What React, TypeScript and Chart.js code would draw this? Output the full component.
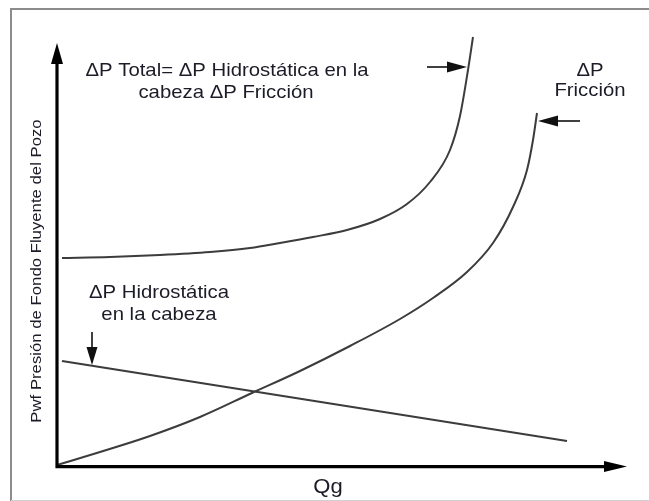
import React, { useEffect, useRef } from "react";
import { Chart, registerables } from "chart.js";

Chart.register(...registerables);

// Conceptual curves (Qg on x, bottom-hole flowing pressure on y, arbitrary units)
const frictionQg = [0, 43, 93, 143, 195, 243, 293, 343, 376, 410, 436, 456, 470, 476, 480];
const frictionP = [0, 13, 29, 48, 72, 94, 119, 146, 167, 193, 222, 258, 295, 325, 352];

const totalQg = [5, 53, 103, 153, 193, 223, 256, 290, 323, 350, 373, 393, 403, 411, 416];
const totalP = [207, 208, 210, 213, 217, 222, 228, 235, 246, 261, 283, 315, 349, 395, 428];

const hydroQg = [5, 510];
const hydroP = [104, 24];

const textTotal = ["ΔP Total= ΔP Hidrostática en la", "cabeza ΔP Fricción"];
const textFriction = ["ΔP", "Fricción"];
const textHydro = ["ΔP Hidrostática", "en la cabeza"];
const xTitle = "Qg";
const yTitle = "Pwf Presión de Fondo Fluyente del Pozo";

const FONT = "'Liberation Sans', Arial, sans-serif";
const TEXT_COLOR = "#1c1c28";
const CURVE_COLOR = "#3c3c3c";

function toPoints(xs: number[], ys: number[]) {
  return xs.map((x, i) => ({ x, y: ys[i] }));
}

function drawText(
  ctx: CanvasRenderingContext2D,
  text: string,
  x: number,
  y: number,
  size: number,
  stretch: number,
  rotate = false
) {
  ctx.save();
  ctx.translate(x, y);
  if (rotate) ctx.rotate(-Math.PI / 2);
  ctx.scale(stretch, 1);
  ctx.font = `${size}px ${FONT}`;
  ctx.fillStyle = TEXT_COLOR;
  ctx.textAlign = "center";
  ctx.textBaseline = "alphabetic";
  ctx.fillText(text, 0, 0);
  ctx.restore();
}

function arrowHead(
  ctx: CanvasRenderingContext2D,
  tipX: number,
  tipY: number,
  dirX: number,
  dirY: number,
  len: number,
  half: number
) {
  const bx = tipX - dirX * len;
  const by = tipY - dirY * len;
  const nx = -dirY;
  const ny = dirX;
  ctx.beginPath();
  ctx.moveTo(tipX, tipY);
  ctx.lineTo(bx + nx * half, by + ny * half);
  ctx.lineTo(bx - nx * half, by - ny * half);
  ctx.closePath();
  ctx.fill();
}

function arrow(
  ctx: CanvasRenderingContext2D,
  x1: number,
  y1: number,
  x2: number,
  y2: number,
  width: number,
  len: number,
  half: number,
  color: string
) {
  const d = Math.hypot(x2 - x1, y2 - y1);
  const dx = (x2 - x1) / d;
  const dy = (y2 - y1) / d;
  ctx.save();
  ctx.strokeStyle = color;
  ctx.fillStyle = color;
  ctx.lineWidth = width;
  ctx.beginPath();
  ctx.moveTo(x1, y1);
  ctx.lineTo(x2 - dx * (len - 2), y2 - dy * (len - 2));
  ctx.stroke();
  arrowHead(ctx, x2, y2, dx, dy, len, half);
  ctx.restore();
}

const decorations = {
  id: "decorations",
  beforeDraw(chart: any) {
    const ctx: CanvasRenderingContext2D = chart.ctx;
    ctx.save();
    ctx.fillStyle = "#ffffff";
    ctx.fillRect(0, 0, chart.width, chart.height);
    ctx.strokeStyle = "#8c8c8c";
    ctx.lineWidth = 2;
    ctx.beginPath();
    ctx.moveTo(11, chart.height + 5);
    ctx.lineTo(11, 9);
    ctx.lineTo(chart.width + 5, 9);
    ctx.stroke();
    ctx.strokeStyle = "#d0d0d0";
    ctx.lineWidth = 1;
    ctx.beginPath();
    ctx.moveTo(11, chart.height - 0.5);
    ctx.lineTo(chart.width, chart.height - 0.5);
    ctx.stroke();
    ctx.restore();
  },
  afterDraw(chart: any) {
    const ctx: CanvasRenderingContext2D = chart.ctx;
    const xs = chart.scales.x;
    const ys = chart.scales.y;
    const X = (v: number) => xs.getPixelForValue(v);
    const Y = (v: number) => ys.getPixelForValue(v);

    // axes with arrow heads
    ctx.save();
    ctx.strokeStyle = "#000";
    ctx.fillStyle = "#000";
    ctx.lineWidth = 3.2;
    ctx.lineCap = "butt";
    ctx.beginPath();
    ctx.moveTo(X(0), Y(422) + 18);
    ctx.lineTo(X(0), Y(0) + 1.6);
    ctx.lineTo(X(570) - 20, Y(0) + 1.6);
    ctx.stroke();
    arrowHead(ctx, X(0), Y(422), 0, -1, 21, 6);
    arrowHead(ctx, X(570), Y(0) + 1.6, 1, 0, 23, 5.5);
    ctx.restore();

    // annotation arrows
    arrow(ctx, X(370), Y(398), X(410), Y(398), 1.6, 20, 5.5, "#111");
    arrow(ctx, X(523), Y(344), X(481), Y(344), 1.6, 20, 5.5, "#111");
    arrow(ctx, X(35), Y(133), X(35), Y(100), 1.6, 18, 5.5, "#111");

    // annotation texts
    drawText(ctx, textTotal[0], X(170), Y(389), 19, 1.07);
    drawText(ctx, textTotal[1], X(169), Y(367), 19, 1.07);
    drawText(ctx, textFriction[0], X(533), Y(389), 19, 1.07);
    drawText(ctx, textFriction[1], X(533), Y(369), 19, 1.07);
    drawText(ctx, textHydro[0], X(102), Y(167), 19, 1.07);
    drawText(ctx, textHydro[1], X(102), Y(145), 19, 1.07);

    // axis titles
    drawText(ctx, xTitle, X(271), Y(-28), 21, 1.05);
    drawText(ctx, yTitle, X(-16), Y(194), 15.5, 1.08, true);
  },
};

export default function App() {
  const canvasRef = useRef<HTMLCanvasElement | null>(null);

  useEffect(() => {
    if (!canvasRef.current) return;
    const lineStyle = {
      borderColor: CURVE_COLOR,
      borderWidth: 2,
      pointRadius: 0,
      pointHoverRadius: 0,
      fill: false,
      cubicInterpolationMode: "monotone" as const,
      clip: false as any,
    };
    const chart = new Chart(canvasRef.current, {
      type: "line",
      data: {
        datasets: [
          { label: "ΔP Total", data: toPoints(totalQg, totalP), ...lineStyle },
          { label: "ΔP Fricción", data: toPoints(frictionQg, frictionP), ...lineStyle },
          { label: "ΔP Hidrostática", data: toPoints(hydroQg, hydroP), ...lineStyle, cubicInterpolationMode: "default" as const },
        ],
      },
      options: {
        responsive: false,
        animation: false,
        layout: { padding: { left: 57, right: 22, top: 30, bottom: 36 } },
        scales: {
          x: { type: "linear", display: false, min: 0, max: 570 },
          y: { type: "linear", display: false, min: 0, max: 435 },
        },
        plugins: {
          legend: { display: false },
          tooltip: { enabled: false },
        },
        events: [],
      },
      plugins: [decorations],
    });
    return () => chart.destroy();
  }, []);

  return (
    <div style={{ position: "absolute", left: 0, top: 0, width: 649, height: 501 }}>
      <canvas ref={canvasRef} width={649} height={501} style={{ display: "block" }} />
    </div>
  );
}
